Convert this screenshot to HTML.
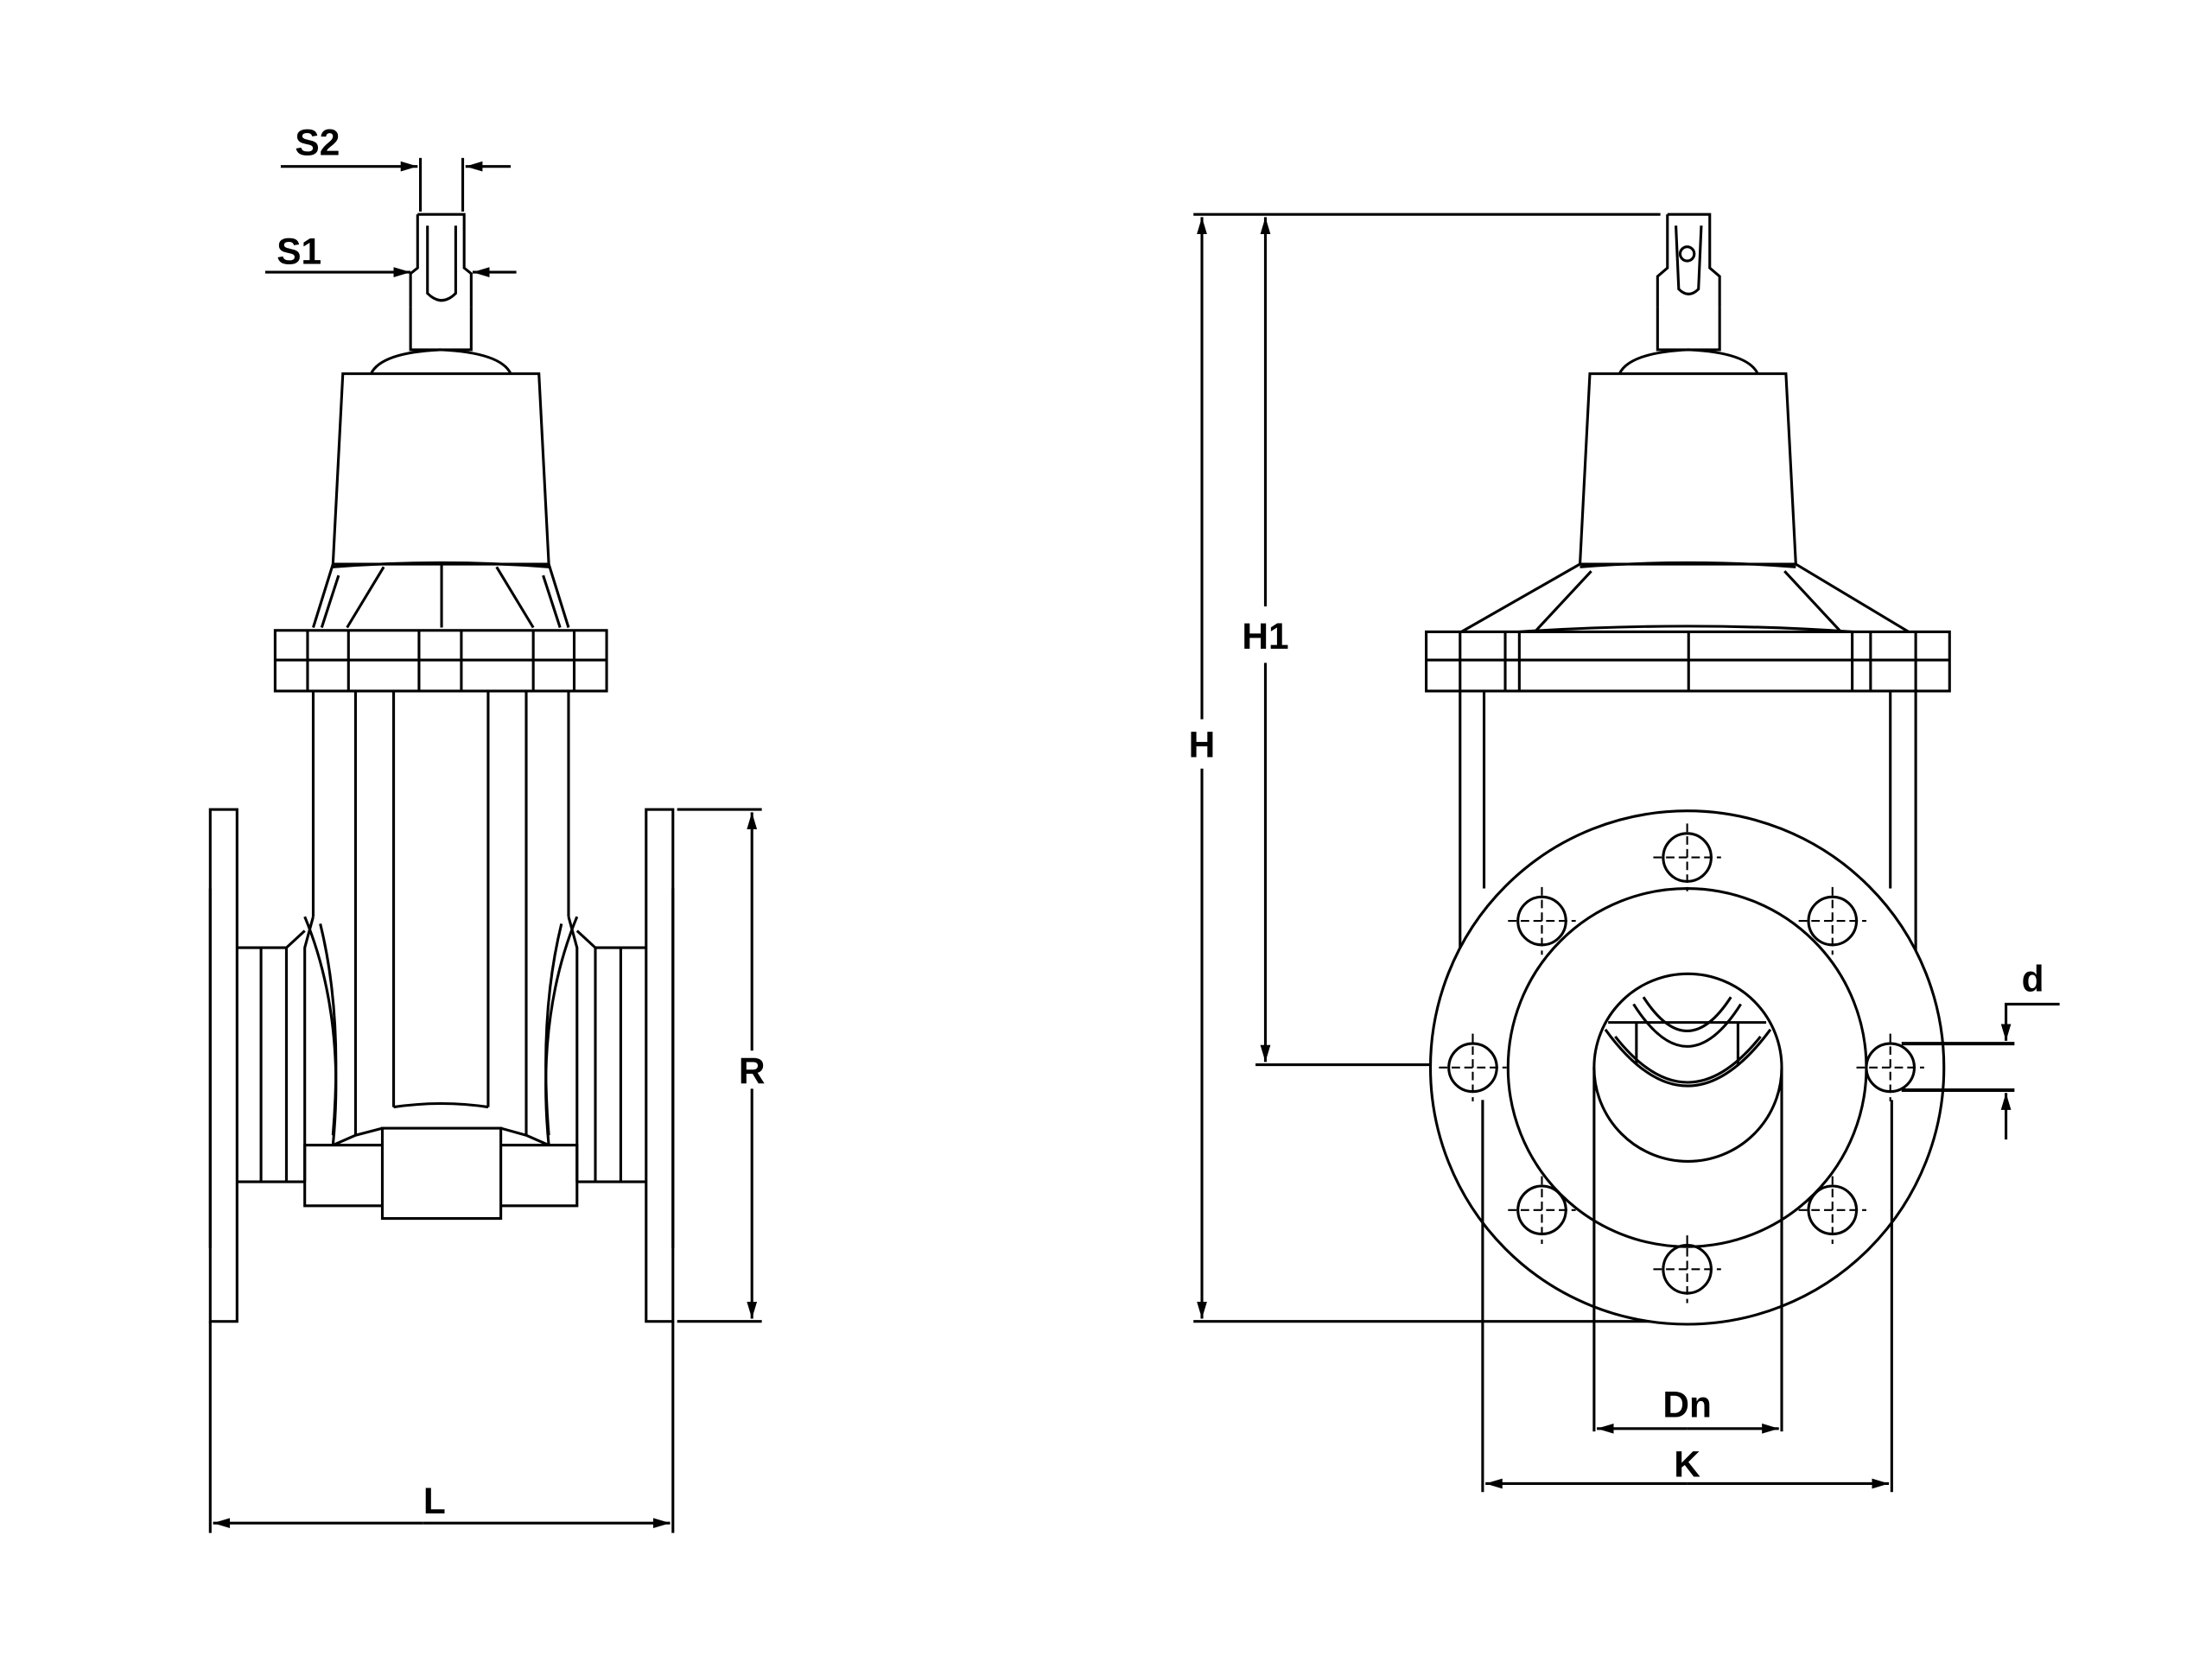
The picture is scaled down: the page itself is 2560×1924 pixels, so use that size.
<!DOCTYPE html>
<html><head><meta charset="utf-8"><style>
html,body{margin:0;padding:0;background:#fff}
svg{display:block}
text{font-family:"Liberation Sans",sans-serif;font-weight:bold;font-size:26px;fill:#000;text-anchor:middle}
</style></head><body>
<svg width="2560" height="1924" viewBox="0 0 1568 1178.5" xmlns="http://www.w3.org/2000/svg">
<defs>
<marker id="a" viewBox="0 0 10 10" refX="10" refY="5" markerWidth="12" markerHeight="12" markerUnits="userSpaceOnUse" orient="auto-start-reverse"><path d="M0,2 L10,5 L0,8z" fill="#000"/></marker>
</defs>
<g fill="none" stroke="#000" stroke-width="1.9">
<line x1="199" y1="118" x2="296" y2="118" marker-end="url(#a)"/>
<line x1="362" y1="118" x2="330" y2="118" marker-end="url(#a)"/>
<line x1="298" y1="112" x2="298" y2="150"/><line x1="328" y1="112" x2="328" y2="150"/>
<line x1="188" y1="193" x2="291" y2="193" marker-end="url(#a)"/>
<line x1="366" y1="193" x2="335" y2="193" marker-end="url(#a)"/>
<path d="M296,152 H329 L329,190 L334,194 V218 M296,152 V190 L291,194 V218"/>
<path d="M303,160 V208 Q313,218 323,208 V160"/>
<path d="M291,218 V248 H334 V218"/>
<path d="M263,265 Q270,250 312,248 Q355,250 362,265"/>
<path d="M243,265 H382 L389,400 H236 Z"/>
<path d="M236,400 L222,445 M389,400 L403,445"/>
<path d="M236,402 Q312,396 389,402"/>
<path d="M272,402 L246,445 M352,402 L378,445 M313,400 V445 M240,408 L228,445 M385,408 L397,445"/>
<rect x="195" y="447" width="235" height="43"/>
<line x1="195" y1="468" x2="430" y2="468"/>
<path d="M218,447V490 M247,447V490 M297,447V490 M327,447V490 M378,447V490 M407,447V490"/>
<path d="M222,490 V650 M403,490 V650 M252,490 V805 M279,490 V785 M346,490 V785 M373,490 V805"/>
<path d="M279,785 Q313,780 346,785"/>
<path d="M222,650 L216,672 V838 M403,650 L409,672 V838"/>
<path d="M216,650 Q245,720 236,812 M409,650 Q380,720 389,812"/>
<path d="M236,812 L252,805 L271,800 M389,812 L373,805 L355,800"/>
<path d="M227,655 Q243,720 236,805"/><path d="M398,655 Q382,720 389,805"/>
<path d="M168,672 H203 L216,660 M458,672 H422 L409,660"/>
<path d="M168,838 H216 M409,838 H458"/>
<path d="M185,672 V838 M203,672 V838 M440,672 V838 M422,672 V838"/>
<rect x="216" y="812" width="193" height="43"/>
<rect x="271" y="800" width="84" height="64" fill="#fff"/>
<rect x="149" y="574" width="19" height="363"/>
<rect x="458" y="574" width="19" height="363"/>
<path d="M149,630 V885 M477,630 V885"/>
<line x1="480" y1="574" x2="540" y2="574"/><line x1="480" y1="937" x2="540" y2="937"/>
<line x1="533" y1="745" x2="533" y2="576" marker-end="url(#a)"/>
<line x1="533" y1="772" x2="533" y2="935" marker-end="url(#a)"/>
<line x1="149" y1="937" x2="149" y2="1087"/><line x1="477" y1="937" x2="477" y2="1087"/>
<line x1="300" y1="1080" x2="151" y2="1080" marker-end="url(#a)"/>
<line x1="300" y1="1080" x2="475" y2="1080" marker-end="url(#a)"/>

<line x1="846" y1="152" x2="1177" y2="152"/>
<line x1="846" y1="937" x2="1190" y2="937"/>
<line x1="852" y1="510" x2="852" y2="154" marker-end="url(#a)"/>
<line x1="852" y1="545" x2="852" y2="935" marker-end="url(#a)"/>
<line x1="897" y1="430" x2="897" y2="154" marker-end="url(#a)"/>
<line x1="897" y1="470" x2="897" y2="753" marker-end="url(#a)"/>
<line x1="890" y1="755" x2="1190" y2="755"/>
<path d="M1182,152 H1212 V190 L1219,196 V218 M1182,152 V190 L1175,196 V218"/>
<path d="M1188,160 L1190,205 Q1197,212 1204,205 L1206,160"/>
<circle cx="1196" cy="180" r="5"/>
<path d="M1175,218 V248 H1219 V218"/>
<path d="M1148,265 Q1155,250 1197,248 Q1239,250 1246,265"/>
<path d="M1127,265 H1266 L1273,400 H1120 Z"/>
<path d="M1120,402 Q1197,396 1273,402"/>
<path d="M1120,400 L1036,448 M1273,400 L1353,448 M1128,405 L1088,448 M1265,405 L1305,448"/>
<path d="M1077,448 Q1197,440 1313,448"/>
<rect x="1011" y="448" width="371" height="42"/>
<line x1="1011" y1="468" x2="1382" y2="468"/>
<path d="M1035,448V490 M1067,448V490 M1077,448V490 M1197,448V490 M1313,448V490 M1326,448V490 M1358,448V490"/>
<path d="M1035,490 V680 M1052,490 V630 M1340,490 V630 M1358,490 V680"/>
<circle cx="1196" cy="757" r="182" fill="#fff"/>
<circle cx="1196" cy="757" r="127"/>
<path d="M1130,1015 V757 A66.5,66.5 0 0 1 1263,757 V1015"/>
<path d="M1130,757 A66.5,66.5 0 0 0 1263,757"/>
<path d="M1140,725 H1252 M1160,725 V755 M1232,725 V755"/>
<path d="M1165,707 Q1196,755 1227,707 M1158,712 Q1196,772 1234,712"/>
<path d="M1138,730 Q1196,810 1255,730 M1145,735 Q1196,800 1248,735"/>
<g>
<circle cx="1196" cy="608" r="17"/><circle cx="1093" cy="653" r="17"/><circle cx="1299" cy="653" r="17"/>
<circle cx="1044" cy="757" r="17"/><circle cx="1340" cy="757" r="17"/>
<circle cx="1093" cy="858" r="17"/><circle cx="1299" cy="858" r="17"/><circle cx="1196" cy="900" r="17"/>
</g>
<g stroke-dasharray="6,3" stroke-width="1.3">
<path d="M1172,608H1220M1196,584V632 M1069,653H1117M1093,629V677 M1275,653H1323M1299,629V677 M1020,757H1068M1044,733V781 M1316,757H1364M1340,733V781 M1069,858H1117M1093,834V882 M1275,858H1323M1299,834V882 M1172,900H1220M1196,876V924"/>
</g>
<line x1="1051" y1="780" x2="1051" y2="1058"/><line x1="1341" y1="780" x2="1341" y2="1058"/>
<line x1="1196" y1="1052" x2="1053" y2="1052" marker-end="url(#a)"/>
<line x1="1196" y1="1052" x2="1339" y2="1052" marker-end="url(#a)"/>
<line x1="1196" y1="1013" x2="1132" y2="1013" marker-end="url(#a)"/>
<line x1="1196" y1="1013" x2="1261" y2="1013" marker-end="url(#a)"/>
<line x1="1348" y1="740" x2="1428" y2="740" stroke-width="2.4"/>
<line x1="1348" y1="773" x2="1428" y2="773" stroke-width="2.4"/>
<path d="M1460,712 H1422 V738" marker-end="url(#a)"/>
<line x1="1422" y1="808" x2="1422" y2="775" marker-end="url(#a)"/>
</g>
<text x="225" y="110">S2</text>
<text x="212" y="187">S1</text>
<text x="533" y="768">R</text>
<text x="308" y="1073">L</text>
<text x="852" y="537">H</text>
<text x="897" y="460">H1</text>
<text x="1196" y="1005">Dn</text>
<text x="1196" y="1047">K</text>
<text x="1441" y="703">d</text>
</svg>
</body></html>
